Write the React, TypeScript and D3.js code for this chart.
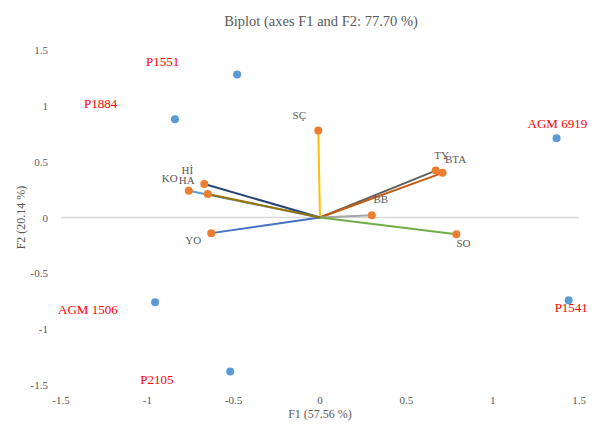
import React from 'react';
import * as d3 from 'd3';

const obsNames = ['P1551', 'P1884', 'AGM 6919', 'AGM 1506', 'P1541', 'P2105'];
const obsF1 = [-0.48, -0.84, 1.37, -0.955, 1.44, -0.52];
const obsF2 = [1.28, 0.88, 0.71, -0.76, -0.74, -1.38];

const varNames = ['SÇ', 'TY', 'BTA', 'BB', 'SO', 'YO', 'Hİ', 'KO', 'HA'];
const varF1 = [-0.01, 0.67, 0.71, 0.30, 0.79, -0.63, -0.67, -0.76, -0.65];
const varF2 = [0.78, 0.42, 0.40, 0.02, -0.15, -0.14, 0.30, 0.24, 0.21];
const varColors = ['#FFC000', '#636363', '#C55A11', '#A5A5A5', '#70AD47', '#4472C4', '#264478', '#5B9BD5', '#997300'];

const ticks = [-1.5, -1, -0.5, 0, 0.5, 1, 1.5];

const W = 598, H = 424;
const font = '"Liberation Serif", "Times New Roman", serif';

export default function App() {
  const x = d3.scaleLinear().domain([-1.5, 1.5]).range([61, 579]);
  const y = d3.scaleLinear().domain([-1.5, 1.5]).range([385, 50]);

  // label offsets (dx, dy, anchor) for variable labels
  const varLab: [number, number, string][] = [
    [-19, -11, 'middle'], [6, -12, 'middle'], [13, -10, 'middle'], [9, -12, 'middle'],
    [7, 13, 'middle'], [-18, 11, 'middle'], [-17, -10, 'middle'], [-19, -9, 'middle'], [-21, -10, 'middle'],
  ];
  // observation label offsets (dx, dy), text starts at dx
  const obsLab: [number, number][] = [
    [-91, -9], [-91, -11], [-29, -10], [-97, 12], [-14, 12], [-90, 12],
  ];

  return (
    <svg width={W} height={H} style={{ position: 'absolute', left: 0, top: 0, background: '#fff' }}>
      <text x={321} y={26} textAnchor="middle" fontFamily={font} fontSize={14.5} fill="#595959">
        Biplot (axes F1 and F2: 77.70 %)
      </text>
      <line x1={x(-1.5)} x2={x(1.5)} y1={y(0)} y2={y(0)} stroke="#D9D9D9" strokeWidth={1.5} />
      {ticks.map(t => (
        <text key={'x' + t} x={x(t)} y={404} textAnchor="middle" fontFamily={font} fontSize={11} fill="#595959">{t}</text>
      ))}
      {ticks.map(t => (
        <text key={'y' + t} x={48} y={y(t) + 4} textAnchor="end" fontFamily={font} fontSize={11} fill="#595959">{t}</text>
      ))}
      <text x={320} y={418} textAnchor="middle" fontFamily={font} fontSize={12} fill="#595959">F1 (57.56 %)</text>
      <text transform={`translate(25,${y(0)}) rotate(-90)`} textAnchor="middle" fontFamily={font} fontSize={12} fill="#595959">F2 (20.14 %)</text>

      {varNames.map((n, i) => (
        <line key={'l' + n} x1={x(0)} y1={y(0)} x2={x(varF1[i])} y2={y(varF2[i])} stroke={varColors[i]} strokeWidth={2} />
      ))}
      {varNames.map((n, i) => (
        <circle key={'c' + n} cx={x(varF1[i])} cy={y(varF2[i])} r={4} fill="#ED7D31" />
      ))}
      {varNames.map((n, i) => (
        <text key={'t' + n} x={x(varF1[i]) + varLab[i][0]} y={y(varF2[i]) + varLab[i][1]} textAnchor={varLab[i][2]}
          fontFamily={font} fontSize={11} fill="#595959">{n}</text>
      ))}

      {obsNames.map((n, i) => (
        <circle key={'o' + n} cx={x(obsF1[i])} cy={y(obsF2[i])} r={4} fill="#5B9BD5" />
      ))}
      {obsNames.map((n, i) => (
        <text key={'ot' + n} x={x(obsF1[i]) + obsLab[i][0]} y={y(obsF2[i]) + obsLab[i][1]}
          fontFamily={font} fontSize={13} fill="#FF0000">{n}</text>
      ))}
    </svg>
  );
}
